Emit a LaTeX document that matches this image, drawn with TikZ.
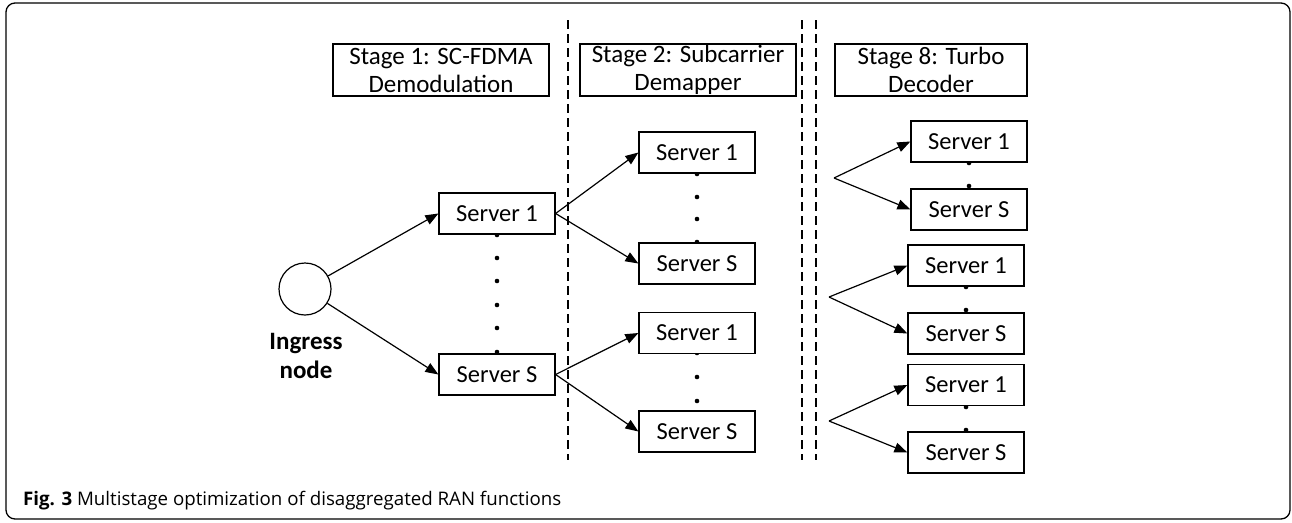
\documentclass[tikz,border=0pt]{standalone}
\usepackage{fontspec}
\setmainfont{Carlito}
\newfontfamily\capfont{Open Sans}
\usetikzlibrary{arrows.meta}
\begin{document}
\begin{tikzpicture}[x=1pt,y=-1pt,
  box/.style={draw,line width=1.2pt,fill=white,minimum width=116pt,minimum height=41pt,inner sep=0pt,font=\fontsize{24.5}{28}\selectfont},
  stagebox/.style={draw,line width=1.2pt,fill=white,minimum width=216pt,minimum height=52pt,inner sep=0pt,align=center,font=\fontsize{25}{28}\selectfont},
  arr/.style={line width=1.2pt,-{Triangle[length=13pt,width=10pt]}},
  sep/.style={line width=1.2pt,dash pattern=on 9pt off 5pt}]
\useasboundingbox (0,0) rectangle (1292,522);
\draw[line width=1.3pt,rounded corners=9pt] (6,3) rectangle (1290,519);
% separators
\draw[sep] (568,20) -- (568,460);
\draw[sep] (802,20) -- (802,460);
\draw[sep] (816,20) -- (816,460);
% dots
\foreach \y in {235,258,281,305,328,352} \fill (497,\y) circle (2.3pt);
\foreach \y in {174,197,219,242} \fill (697,\y) circle (2.3pt);
\foreach \y in {353,377,401} \fill (697,\y) circle (2.3pt);
\foreach \y in {163,186} \fill (969,\y) circle (2.3pt);
\foreach \y in {287,310,407,430} \fill (966,\y) circle (2.3pt);
% stage titles
\node[stagebox] (s1) at (441,70) {Stage 1: SC-FDMA\\Demodulation};
\node[stagebox] (s2) at (688,70) {Stage 2: Subcarrier\\Demapper};
\node[stagebox,minimum width=192pt] (s8) at (931,70) {Stage 8: Turbo\\Decoder};
% ingress
\node[draw,circle,line width=1.2pt,minimum size=52pt,inner sep=0pt] (in) at (305,289) {};
\node[align=center,font=\fontsize{25}{29}\bfseries\selectfont] (inlab) at (306,356) {Ingress\\node};
% stage 1 servers
\node[box] (a1) at (497,213.5) {Server 1};
\node[box] (aS) at (497,374.5) {Server S};
% stage 2 servers
\node[box] (b1) at (697,152.5) {Server 1};
\node[box] (bS) at (697,263.5) {Server S};
\node[box] (c1) at (697,333) {Server 1};
\node[box] (cS) at (697,431.5) {Server S};
% stage 8 servers
\node[box] (d1) at (969,141.5) {Server 1};
\node[box] (dS) at (969,209.5) {Server S};
\node[box] (e1) at (966,265.5) {Server 1};
\node[box] (eS) at (966,333.5) {Server S};
\node[box] (f1) at (966,385) {Server 1};
\node[box] (fS) at (966,452.5) {Server S};
\coordinate (p1) at (834,178);
\coordinate (p2) at (829,297);
\coordinate (p3) at (829,421);
% arrows
\draw[arr] (in) -- (a1.west);
\draw[arr] (in) -- (aS.west);
\draw[arr] (a1.east) -- (b1.west);
\draw[arr] (a1.east) -- (bS.west);
\draw[arr] (aS.east) -- (c1.west);
\draw[arr] (aS.east) -- (cS.west);
\draw[arr] (p1) -- (d1.west);
\draw[arr] (p1) -- (dS.west);
\draw[arr] (p2) -- (e1.west);
\draw[arr] (p2) -- (eS.west);
\draw[arr] (p3) -- (f1.west);
\draw[arr] (p3) -- (fS.west);
% caption
\node[anchor=base west,inner sep=0pt,font=\capfont\fontsize{18.7}{22}\selectfont] (cap) at (23,505) {\textbf{Fig. 3} Multistage optimization of disaggregated RAN functions};
\end{tikzpicture}
\end{document}
